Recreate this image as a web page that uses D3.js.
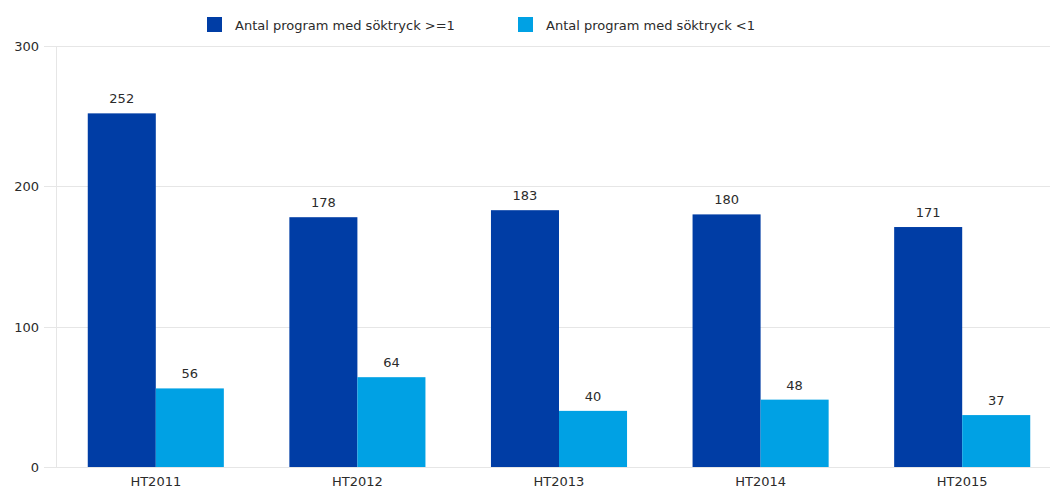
<!DOCTYPE html>
<meta charset="utf-8">
<style>
body { margin: 0; background: #fff; }
svg { display: block; font-family: "DejaVu Sans", Verdana, sans-serif; }
.grid line { stroke: #e6e6e6; }
.lbl { font-size: 13px; fill: #2b2b2b; }
</style>
<svg width="1050" height="493"></svg>
<script src="https://d3js.org/d3.v7.min.js"></script>
<script>
var categories = ["HT2011", "HT2012", "HT2013", "HT2014", "HT2015"];
var seriesNames = ["Antal program med söktryck >=1", "Antal program med söktryck <1"];
var high = [252, 178, 183, 180, 171];
var low = [56, 64, 40, 48, 37];
var yTicks = [0, 100, 200, 300];
var colors = ["#003da5", "#00a1e4"];

var svg = d3.select("svg"),
    width = +svg.attr("width"),
    height = +svg.attr("height");

var plotLeft = 56, plotTop = 46, plotBottom = 467;

// last band runs past the right edge, as in the original
var x = d3.scaleBand()
    .domain(categories)
    .range([plotLeft - 1, plotLeft + 1007])
    .paddingInner(0.325)
    .paddingOuter(0.1625);

var x1 = d3.scaleBand()
    .domain([0, 1])
    .range([0, x.bandwidth()]);

var y = d3.scaleLinear()
    .domain([0, 300])
    .range([plotBottom, plotTop]);

// grid
var grid = svg.append("g").attr("class", "grid");
grid.selectAll("line")
  .data(yTicks)
  .enter().append("line")
    .attr("x1", plotLeft - 12)
    .attr("x2", width)
    .attr("y1", function(d) { return Math.round(y(d)) + 0.5; })
    .attr("y2", function(d) { return Math.round(y(d)) + 0.5; });

svg.append("line")
    .attr("x1", plotLeft + 0.5).attr("x2", plotLeft + 0.5)
    .attr("y1", plotTop).attr("y2", plotBottom)
    .attr("stroke", "#e6e6e6");

svg.selectAll(".ytick")
  .data(yTicks)
  .enter().append("text")
    .attr("class", "lbl")
    .attr("x", 39)
    .attr("y", function(d) { return y(d) + 5; })
    .attr("text-anchor", "end")
    .text(function(d) { return d; });

// bars
var data = categories.map(function(c, i) { return {cat: c, vals: [high[i], low[i]]}; });

var group = svg.selectAll(".grp")
  .data(data)
  .enter().append("g")
    .attr("transform", function(d) { return "translate(" + x(d.cat) + ",0)"; });

group.selectAll("rect")
  .data(function(d) { return d.vals; })
  .enter().append("rect")
    .attr("x", function(d, i) { return x1(i); })
    .attr("y", function(d) { return y(d); })
    .attr("width", x1.bandwidth())
    .attr("height", function(d) { return plotBottom - y(d); })
    .attr("fill", function(d, i) { return colors[i]; });

group.selectAll(".val")
  .data(function(d) { return d.vals; })
  .enter().append("text")
    .attr("class", "lbl")
    .attr("x", function(d, i) { return x1(i) + x1.bandwidth() / 2; })
    .attr("y", function(d) { return y(d) - 10; })
    .attr("text-anchor", "middle")
    .text(function(d) { return d; });

svg.selectAll(".xlab")
  .data(categories)
  .enter().append("text")
    .attr("class", "lbl")
    .attr("x", function(d) { return x(d) + x.bandwidth() / 2; })
    .attr("y", 486)
    .attr("text-anchor", "middle")
    .text(function(d) { return d; });

// legend
var legX = [207, 518];
var leg = svg.selectAll(".leg")
  .data(seriesNames)
  .enter().append("g")
    .attr("transform", function(d, i) { return "translate(" + legX[i] + ",17)"; });
leg.append("rect")
    .attr("width", 15).attr("height", 15)
    .attr("fill", function(d, i) { return colors[i]; });
leg.append("text")
    .attr("class", "lbl")
    .attr("x", 28).attr("y", 12.5)
    .text(function(d) { return d; });
</script>
